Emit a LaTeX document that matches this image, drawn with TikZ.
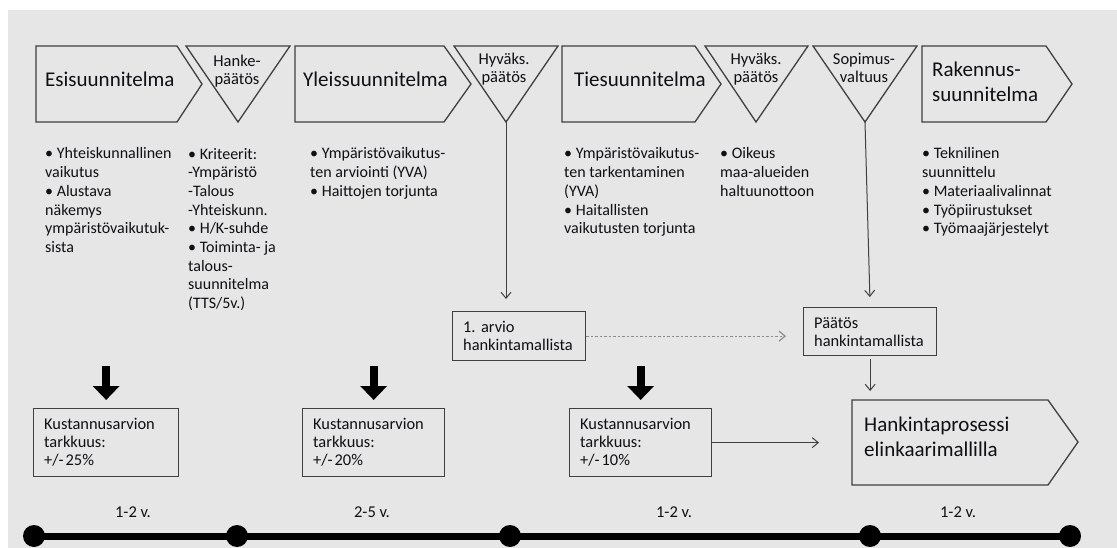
\documentclass[tikz,border=0pt]{standalone}
\usepackage{fontspec}
\setmainfont{Carlito}
\frenchspacing
\usetikzlibrary{arrows.meta,calc}
\definecolor{panel}{RGB}{230,230,230}
\definecolor{ink}{RGB}{15,15,20}
\definecolor{edge}{RGB}{64,64,64}
\definecolor{dotline}{RGB}{140,140,140}
\newcommand{\plusminus}{+/-\kern2pt}

\begin{document}
\begin{tikzpicture}[x=1pt,y=-1pt,
  outline/.style={draw=edge,line width=1.3pt,line join=miter},
  % multi-line texts are anchored at the baseline of their last line
  title/.style={font=\fontsize{21}{25}\selectfont,text=ink,inner sep=0pt,anchor=base west,align=left},
  tlabel/.style={font=\fontsize{16.5}{17.5}\selectfont,text=ink,inner sep=0pt,anchor=base,align=center},
  bullets/.style={font=\fontsize{16}{18.7}\selectfont,text=ink,inner sep=0pt,anchor=base west,align=left},
  infobox/.style={draw=edge,line width=1.3pt,fill=panel,font=\fontsize{16.4}{18}\selectfont,text=ink,
    align=left,anchor=north west,inner xsep=10.5pt,inner ysep=0pt},
  thin/.style={draw=edge,line width=1pt,-{Straight Barb[length=6pt,width=10pt]}},
  dotted arrow/.style={draw=dotline,line width=1.2pt,dash pattern=on 2.5pt off 2pt,-{Straight Barb[length=6pt,width=10pt]}},
  fat/.style={draw=black,line width=8pt,-{Triangle[length=14pt,width=26pt]}},
  dot/.style={circle,fill=black,minimum size=22pt,inner sep=0pt},
  span/.style={font=\fontsize{16.5}{18}\selectfont,text=ink,inner sep=0pt,anchor=base}
]
\useasboundingbox (0,0) rectangle (1117,548);
\fill[panel] (8,10) rectangle (1117,548);

% ---- phase shapes (pentagons) and decision triangles ----
\draw[outline] (36,46) -- (177,46) -- (202,84) -- (177,122) -- (36,122) -- cycle;
\draw[outline] (186,46) -- (290,46) -- (238,122) coordinate (hanke) -- cycle;
\draw[outline] (295,46) -- (444,46) -- (471,84) -- (444,122) -- (295,122) -- cycle;
\draw[outline] (454,46) -- (558,46) -- (506,122) coordinate (hyv1) -- cycle;
\draw[outline] (562,46) -- (695,46) -- (721,84) -- (695,122) -- (562,122) -- cycle;
\draw[outline] (705,46) -- (808,46) -- (756,122) coordinate (hyv2) -- cycle;
\draw[outline] (813,46) -- (917,46) -- (865,122) coordinate (sopimus) -- cycle;
\draw[outline] (922,46) -- (1046,46) -- (1072,84) -- (1046,122) -- (922,122) -- cycle;
\draw[outline] (852,400) coordinate (hk-nw) -- (1048,400) -- (1078,442) -- (1048,485) -- (852,485) -- cycle;

\node[title] (t-esi) at (45,87) {Esisuunnitelma};
\node[title] (t-yleis) at (303,87) {Yleissuunnitelma};
\node[title] (t-tie) at (574,87) {Tiesuunnitelma};
\node[title] (t-rak) at (932,102) {Rakennus-\\suunnitelma};
\node[title] (t-hk) at (864,456) {Hankintaprosessi\\elinkaarimallilla};

\node[tlabel] (l-hanke) at (237,84.5) {Hanke-\\päätös};
\node[tlabel] (l-hyv1) at (504,82.5) {Hyväks.\\päätös};
\node[tlabel] (l-hyv2) at (756,82.5) {Hyväks.\\päätös};
\node[tlabel] (l-sop) at (864,82.5) {Sopimus-\\valtuus};

% ---- bullet lists ----
\node[bullets] (b1) at (45,252.5) {• Yhteiskunnallinen\\vaikutus\\• Alustava\\näkemys\\ympäristövaikutuk-\\sista};
\node[bullets] (b2) at (188,308.6) {• Kriteerit:\\-Ympäristö\\-Talous\\-Yhteiskunn.\\• H/K-suhde\\• Toiminta- ja\\talous-\\suunnitelma\\(TTS/5v.)};
\node[bullets] (b3) at (310,196.4) {• Ympäristövaikutus-\\ten arviointi (YVA)\\• Haittojen torjunta};
\node[bullets] (b4) at (564,233.8) {• Ympäristövaikutus-\\ten tarkentaminen\\(YVA)\\• Haitallisten\\vaikutusten torjunta};
\node[bullets] (b5) at (720,196.4) {• Oikeus\\maa-alueiden\\haltuunottoon};
\node[bullets] (b6) at (922,233.8) {• Teknilinen\\suunnittelu\\• Materiaalivalinnat\\• Työpiirustukset\\• Työmaajärjestelyt};

% ---- boxes ----
\node[infobox,text width=112pt,minimum height=49pt] (arvio) at (452,311) {1. arvio\\hankintamallista};
\node[infobox,text width=112pt,minimum height=48pt] (paatos) at (803,307) {Päätös\\hankintamallista};
\node[infobox,text width=124pt,minimum height=68pt] (k1) at (33,408) {Kustannusarvion\\tarkkuus:\\\plusminus25\%};
\node[infobox,text width=121pt,minimum height=68pt] (k2) at (302,408) {Kustannusarvion\\tarkkuus:\\\plusminus20\%};
\node[infobox,text width=121pt,minimum height=68pt] (k3) at (569,408) {Kustannusarvion\\tarkkuus:\\\plusminus10\%};

% ---- connectors ----
\draw[thin,shorten >=12pt] (hyv1) -- (hyv1 |- arvio.north);
\draw[thin,shorten >=10pt] (sopimus) -- (paatos.north);
\draw[dotted arrow,shorten >=17pt] (arvio.east) -- (arvio.east -| paatos.west);
\draw[thin,shorten <=3pt,shorten >=9pt] (paatos.south) -- (paatos.south |- hk-nw);
\draw[thin,shorten >=33pt] (k3.east) -- (k3.east -| hk-nw);

\draw[fat,shorten >=8pt] ([yshift=42pt]k1.north) -- (k1.north);
\draw[fat,shorten >=8pt] ([yshift=42pt]k2.north) -- (k2.north);
\draw[fat,shorten >=8pt] ([yshift=42pt]k3.north) -- (k3.north);

% ---- time line ----
\node[dot] (d0) at (34,536) {};
\node[dot] (d1) at (237,536) {};
\node[dot] (d2) at (510,536) {};
\node[dot] (d3) at (870,536) {};
\node[dot] (d4) at (1070,536) {};
\draw[line width=7pt] (d0.center) -- (d4.center);

\node[span] (s1) at (133,517) {1-2 v.};
\node[span] (s2) at (372,517) {2-5 v.};
\node[span] (s3) at (674,517) {1-2 v.};
\node[span] (s4) at (958,517) {1-2 v.};
\end{tikzpicture}
\end{document}
